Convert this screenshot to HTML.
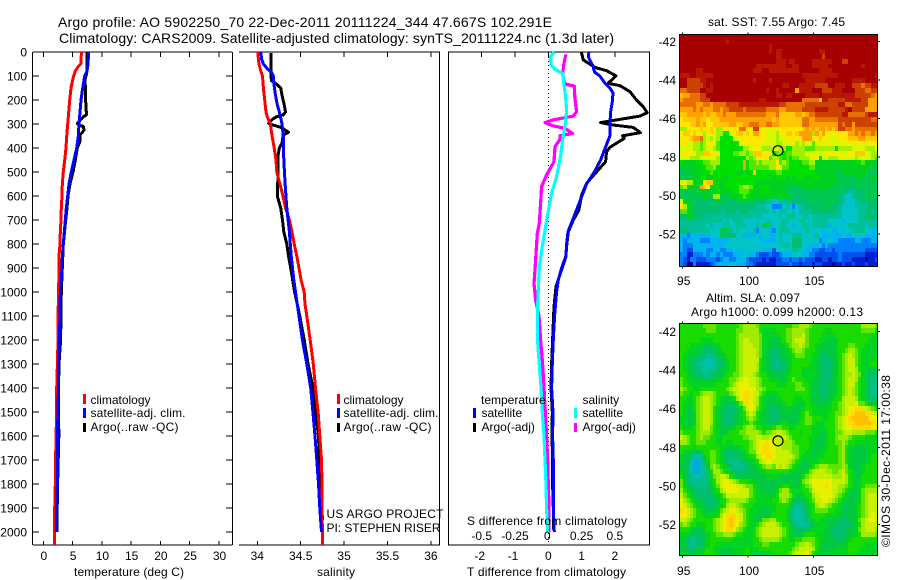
<!DOCTYPE html>
<html lang="en">
<head>
<meta charset="utf-8">
<title>Argo profile 5902250_70</title>
<style>
html,body{margin:0;padding:0;background:#fff;width:900px;height:580px;overflow:hidden}
svg{display:block}
text{font-family:"Liberation Sans",sans-serif;font-size:12px;fill:#000}
.t14{font-size:14px}
</style>
</head>
<body>
<svg id="chart" xmlns="http://www.w3.org/2000/svg" width="900" height="580" viewBox="0 0 900 580">
<rect x="0" y="0" width="900" height="580" fill="#fff"/>
<text class="t14" x="58" y="27" textLength="494" lengthAdjust="spacing">Argo profile: AO 5902250_70 22-Dec-2011 20111224_344 47.667S 102.291E</text>
<text class="t14" x="59" y="43" textLength="555" lengthAdjust="spacing">Climatology: CARS2009. Satellite-adjusted climatology: synTS_20111224.nc (1.3d later)</text>

<text x="74" y="576" textLength="110" lengthAdjust="spacing">temperature (deg C)</text>
<text x="317" y="576" textLength="38" lengthAdjust="spacing">salinity</text>
<text x="467" y="576" textLength="159" lengthAdjust="spacing">T difference from climatology</text>
<text id="s-diff-title" x="467" y="525" textLength="160" lengthAdjust="spacing">S difference from climatology</text>

<text x="708" y="26" textLength="137" lengthAdjust="spacing">sat. SST: 7.55 Argo: 7.45</text>
<text x="706" y="302" textLength="94" lengthAdjust="spacing">Altim. SLA: 0.097</text>
<text x="691" y="316" textLength="172" lengthAdjust="spacing">Argo h1000: 0.099 h2000: 0.13</text>
<text x="326.5" y="518" textLength="117" lengthAdjust="spacing">US ARGO PROJECT</text>
<text x="326.5" y="532" textLength="114" lengthAdjust="spacing">PI: STEPHEN RISER</text>
<text x="890" y="547" transform="rotate(-90 890 547)" textLength="172" lengthAdjust="spacing">©IMOS 30-Dec-2011 17:00:38</text>

<g>
<rect x="83" y="394" width="3" height="10" fill="#ff0000"/>
<text x="90.5" y="404">climatology</text>
<rect x="83" y="408" width="3" height="10" fill="#0000ff"/>
<text x="90.5" y="417" textLength="95" lengthAdjust="spacing">satellite-adj. clim.</text>
<rect x="83" y="423" width="3" height="9" fill="#000"/>
<text x="90.5" y="431" textLength="88" lengthAdjust="spacing">Argo(..raw -QC)</text>
</g>
<g>
<rect x="337" y="394" width="3" height="10" fill="#ff0000"/>
<text x="343.5" y="404">climatology</text>
<rect x="337" y="408" width="3" height="10" fill="#0000ff"/>
<text x="343.5" y="417" textLength="95" lengthAdjust="spacing">satellite-adj. clim.</text>
<rect x="337" y="423" width="3" height="9" fill="#000"/>
<text x="343.5" y="431" textLength="88" lengthAdjust="spacing">Argo(..raw -QC)</text>
</g>
<g id="diff-legend"></g>
</svg>
<script>
/* ---------- depth profiles (dbar, value) ---------- */
const tempClimDepths = [0,30,50,60,80,100,130,150,200,250,300,350,400,450,500,550,600,650,700,750,800,850,900,1000,1100,1200,1300,1400,1500,1600,1700,1800,1900,2000,2054];
const tempClimValues = [6.55,6.4,6.4,5.98,5.47,5.18,4.9,4.73,4.5,4.33,4.16,4.0,3.87,3.65,3.41,3.25,3.2,3.07,3.02,2.9,2.85,2.68,2.68,2.62,2.51,2.51,2.4,2.28,2.28,2.17,2.1,2.05,1.95,1.95,1.95];
const tempSatDepths = [0,50,80,100,150,200,250,300,350,400,450,500,550,600,650,700,750,800,850,900,950,1000,1100,1200,1300,1400,1500,1600,1700,1800,1900,2000];
const tempSatValues = [7.75,7.63,7.46,7.07,6.73,6.44,6.27,6.1,5.98,5.7,5.24,4.78,4.39,4.16,3.93,3.76,3.59,3.41,3.24,3.2,3.07,2.9,2.85,2.73,2.63,2.57,2.51,2.39,2.39,2.39,2.28,2.28];
const tempArgoDepths = [0,70,90,110,130,140,200,250,262,270,285,298,305,310,325,335,345,370,400,450,500,550,600,650,700,800,1000,1200,1300,1400,1600,1800,2000];
const tempArgoValues = [7.5,7.5,7.4,7.17,7.1,7.17,7.23,7.35,7.35,6.83,6.27,5.8,6.15,6.83,6.95,6.66,6.27,6.3,5.8,5.47,5.07,4.56,4.22,4.05,3.82,3.41,3.07,2.95,2.68,2.6,2.65,2.45,2.3];

const salClimDepths = [0,20,50,80,100,150,200,250,270,300,350,400,450,500,550,600,650,700,750,800,850,900,950,1000,1050,1100,1200,1300,1400,1500,1600,1700,1800,1900,2000,2054];
const salClimValues = [34.008,34.01,34.02,34.04,34.06,34.07,34.085,34.1,34.115,34.15,34.17,34.195,34.215,34.225,34.26,34.295,34.325,34.37,34.4,34.425,34.455,34.48,34.505,34.54,34.55,34.57,34.61,34.645,34.67,34.7,34.72,34.74,34.745,34.745,34.75,34.75];
const salSatDepths = [0,30,50,70,85,100,130,180,220,250,300,350,450,550,650,750,850,950,1000,1100,1200,1300,1400,1500,1600,1700,1800,1900,2000];
const salSatValues = [34.04,34.05,34.07,34.115,34.165,34.185,34.19,34.21,34.23,34.255,34.285,34.3,34.305,34.32,34.34,34.37,34.39,34.42,34.44,34.48,34.52,34.57,34.615,34.64,34.665,34.685,34.705,34.72,34.74];
const salArgoDepths = [5,100,120,130,150,180,220,250,262,270,280,298,305,315,325,335,345,380,400,430,500,600,650,700,750,800,850,900,1000,1100,1200,1300,1400,1500,1600,1700,1800,1900,1950];
const salArgoValues = [34.155,34.155,34.165,34.21,34.27,34.285,34.31,34.325,34.3,34.22,34.175,34.13,34.19,34.28,34.32,34.36,34.3,34.285,34.255,34.24,34.24,34.23,34.27,34.29,34.305,34.34,34.36,34.385,34.43,34.49,34.54,34.585,34.64,34.67,34.705,34.715,34.74,34.745,34.75];

const dTArgoDepths = [0,33,64,78,99,131,140,165,200,228,253,267,283,294,304,314,336,349,360,397,415,457,499,547,596,658,700,749,811,853,908,978,1061,1100,1200,1300,1400,1500,1600,1700,1800,1900,1990];
const dTArgoValues = [0.99,1.05,1.40,1.75,2.03,1.80,2.15,2.45,2.65,2.85,2.97,2.75,2.05,1.57,1.95,2.55,2.77,2.23,2.28,1.85,1.75,1.72,1.45,1.15,1.00,0.92,0.75,0.60,0.55,0.53,0.40,0.23,0.17,0.16,0.13,0.10,0.08,0.12,0.11,0.13,0.13,0.15,0.16];
const dTSatDepths = [0,20,40,60,75,85,100,130,150,170,200,250,300,340,350,400,450,500,550,600,650,700,750,800,850,900,950,1000,1050,1100,1200,1300,1400,1500,1600,1700,1800,1900,2000];
const dTSatValues = [1.22,1.20,1.27,1.35,1.37,1.40,1.55,1.70,1.85,1.94,1.93,1.87,1.85,1.86,1.85,1.71,1.57,1.38,1.15,1.01,0.87,0.73,0.59,0.55,0.53,0.40,0.30,0.25,0.22,0.19,0.15,0.12,0.10,0.14,0.13,0.15,0.15,0.15,0.18];
const dSArgoDepths = [10,47,89,124,135,142,193,249,267,283,294,308,318,339,349,364,394,457,512,561,631,714,756,839,908,964,1033,1100,1200,1300,1400,1500,1600,1700,1800,1900,2000];
const dSArgoValues = [0.1325,0.1175,0.1075,0.1175,0.1375,0.195,0.2,0.2125,0.1875,0.0375,-0.025,0.0375,0.125,0.1825,0.0875,0.0875,0.05,0.0425,-0.0125,-0.05,-0.0575,-0.0675,-0.0825,-0.0925,-0.1,-0.1075,-0.095,-0.07,-0.0575,-0.0425,-0.0325,-0.0225,-0.0125,-0.005,0,0.005,0.005];
const dSSatDepths = [0,19,54,72,89,144,200,249,311,367,436,519,589,686,783,894,1061,1100,1200,1250,1300,1400,1500,1600,1700,1800,1900,2000];
const dSSatValues = [0.045,0.0175,0.02,0.05,0.1075,0.12,0.1325,0.1375,0.125,0.1075,0.0925,0.0625,0.025,-0.0075,-0.0375,-0.0675,-0.08,-0.08,-0.08,-0.075,-0.0675,-0.055,-0.045,-0.0325,-0.025,-0.0175,-0.0125,-0.005];

/* ---------- tick labels ---------- */
const depthTicks = [0,100,200,300,400,500,600,700,800,900,1000,1100,1200,1300,1400,1500,1600,1700,1800,1900,2000];
const tempTicks = [0,5,10,15,20,25,30];
const salTicks = ["34","34.5","35","35.5","36"];
const dTTicks = ["-2","-1","0","1","2"];
const dSTicks = ["-0.5","-0.25","0","0.25","0.5"];
const latTicks = [-42,-44,-46,-48,-50,-52];
const lonTicks = [95,100,105];

/* ---------- heat map rows: one letter per cell, a (coldest/lowest) to u (warmest/highest) ---------- */
const sstRows = [
"uuuuuuuuuu uuuuuuuuuu uuuuuuuuuu uuuuuuuuuu uuuuuuuuuu uuuuuuuuuu",
"uuuuuuuuuu uuuutuuuuu uuuuuuuuuu uuuuuuuuuu uuuuuuuuuu uuuuuuuuuu",
"uuuuuuuuuu uuuuuuuuuu uuuuuuutuu uuuuuuuuuu uuuuuuuuuu uuuuuuuuuu",
"uuuuuuuuuu uuuuuuuuuu uuuuuuutut tuuuuuuuuu uuttuuuuuu uuuuuuuuuu",
"uuuuuuuuuu uuuuuuuuuu uuuuuuuuut tuuuuuuuuu uuusuuuuuu uuuuuuuuuu",
"uuuuuuuuuu uuuuuuuuuu uuuuuuuuut ttuttuuuuu ttttttuuus suuuuuuuuu",
"uuuuuuuuuu uuuuuuuuuu uuuttttttt ttuuttuuuu tttttuuuuu uuuuutuuuu",
"uuuuuttuuu uuuuuuuuuu uutttuuttt ttttttuuuu uuttttuuuu uuuuuuuuuu",
"tttuuttttt uuuuuuuuuu uuuuuuuuuu uuuuuuuttt ttttttttuu uuuuuuuuut",
"uussssttuu uuuuuuuuuu uutuuuutuu uuuuuuuutt ttttuuuuuu uuttttuuuu",
"uussssstut uuuuuuuuuu uuuuuuuuuu uttuuutttt tssssuuttt uusssrsstt",
"rrssssuutt uuuuuuuuuu uuuuuutuut uuuuuqtttt uuussstttu uuusssrrss",
"pqqrrrssuu uuuuuuuuuu uuuuuuuuut tuttuuuutt ttuttttttt tttsssssrq",
"qrrrrrsssu uuuuuuuuuu uuuuttuuuu uuuuuuurrr rrpttsssss tttttssqqq",
"rrrrrqqrrq rrrrsssstt tttttttttt ssrrrrrrss sssssssstt rrsssssqqq",
"qqqqrqrqqq rrqrrssssr ssssssrrrr qqrrrrrsss sttttsssss tussssqqqq",
"ppqqqqqpqp pqqrqqqrrr rrrrrrqqqr pppppqqpqr rsssssssst trrrrrsttt",
"oppppqppop ppqqqqqqqq qqqqqqqqpq ppppppprrq qrrrrrrrss ssssssssrr",
"oooppqpqoo pppppqqppq qrrrqqrrqq ppppppprrq qqqqqqqqsr ssqsssssss",
"mmoooopoop ommooooorr oossoonnno ooooooopqp qpqqpqpqss rrqrrrrrrr",
"oppoponmoo ommkknoppo poqqoonnnm ooppopqqqq mqoqoooooo oqqrqrqqrq",
"ooopqqrmnm nmkkkknnoo oooooonnnm nnoooooqqq oopoonnnoo opppqqpppp",
"oonnmmlmoo nlkkkkkkno ooooonnnnm mnnnnmnmnn lnnnnonnnn oonnonnooo",
"nnnnmmlmnn mlkkkkkkkm mnoonmmmnn mmkkmmmmll lmmmmmmkmm mmnnnnmmmn",
"noooommppo ookkkkllmm lmpppoookl mkllmmmmnn nnnnnoooon noopppnnmm",
"nnnmmmnnnn nmkkkkkkkk mlmoooolmm lklkllmmmn ooknnmmmnn nnnmnnnnml",
"kjjjjkkllm mmkkkkkkkq kllmlmmmmo lmlkkkkllm mjjjjjjjjj jjjkkljjjj",
"ijjjjjkkll mkkkkkkkkq kllllllmmo nllkkkkkkl ljjjjjjjjj jjjjjjjjii",
"iiijjjjkkl kkkkkkkjjk jkpkkkkkkl lkkkkkkkkk kjjjjjjiij jjjjjjjiii",
"iiiijjkkjj kkkjjkkkkk kkkkkkkkjk kkjkjkkkjj kkjjjjjjii iiijjiiijj",
"nnmmjjjopp kjjkkkkkkk kkkjjjjjjj jjjjjjjjjk jjjjjjjjii iiiiiiiiii",
"lmjjjiqpnj jkjjkkkklm mljjkkkjjj jjiiiiijjj jjjjjjiiii hhhiiiiiii",
"iijiijjijj jkjjjjkkll lkjjjkkjjj jjiihhiiii iiiiiiiiih hgghhhiiii",
"iiiiiiijji mmiiijjjkl kjjjjjjjji kjjiihhhii iiiiiiiihg ffghhhiiii",
"njjiihhhhh hiiihhhiii iihhhhggff gggghhhhhi iiiiiiihhg fffgghhhhh",
"omkiihhhhh hhhhhhhhhh hhhgggffdd dfgfdfgghh hhiiiihhgf fffgggghhh",
"llkihhhhhh hhgghhhghh hggggggfgf ggffgfgggg hhhhhhhggf ffffgghhgh",
"hhjjhhhggg gggggggggg ggfggfffff gfgggffggf gggggggggf ffffgghhhh",
"gggggggggg gggfgfgggf ffffffgfff fggfffggff gggggffffe ffffggggge",
"ggggggggfg fffggffggg fffgfiigff ggffeffggf gggggeffff fgggggfggg",
"hhgggggggf ffiiigfgff ffgdfffedf gggfffffgf fffeffeefe ffggggffef",
"eedeeeeeef ffiihhhffe eeefeffeef gfffgggfff fgfeeeeeef eeffffeeee",
"edeeeeddde eeeeefffff ffffeeeeef gfffhhhfff ffdeefeedd dddeedddee",
"edddeeeeee eeefffffff ffffffffff fggfhhhffe eefdeddddd dddddddddd",
"edcceeeedd eeddeeffff fffffeeecf ffffggffee ddccddcddd ddddddcccc",
"ddbbdddede ededddeeef feedcccdcc deeefffeed dcccccccdc ccccccbbbb",
"dcbddcccdd dcdeeddeee dccccbcbbc cddcddcdcc cbbccbccdc ccbbbbabbc",
"dcaadbbbbc deeeeffeee ddcbbbbbbc cccdccbccc bccbbbabbc bbcbbbcbbb"
];
const slaRows = [
"kkkkkkklll lkkkkkkklm mmmlkkkkkk kkkkllmmml kkkkkkkkkk kkkkkmmmml",
"kkkkkkkkll lkkkkkkllm mmmmkjjjjk kkllmmmmlk kkkkjjkkkk kkkkkllllk",
"kkkkkkkkkk kkkkkkklmm mmmmljjjjj kkllmmmnlk kkkjjjjkkk kkkkkkkkjj",
"kkkkkkjjjj kkkkkkklmn nmmmljjiii jkllmnnnlk kkjjjiijkk kkkkkkkjjj",
"kkkjjjjiii jjkkkkklmn nnmmljjiii ijklmmnmlk kjjiiiijkk kllkkkjjjj",
"kkjjjiihhh iijkkkklmn nnnmljiihh iijklmmlkk kjiiiiijkk lmmlkjjjjj",
"kjjiiihhgg hiijkkklmn nnnmljihhh iijjklllkk jjihhiijkl mnmlkjjjjj",
"kjiihhggff ghiijkklmn nnnnkjihhg hiijkkkkkk jiihhhiikl mnnlkjjjjk",
"kjiihggfff ghhijkklmn nnnmkjihhg hhijkkkkkj jiihhhiikl mnnlkjjjkk",
"kjiihhgfgg ghiijkklmn nnnmkjiihh hhijkkkjjj jiihhhiikl mnnmkjjiii",
"kkjiihhggh hiijkkllmn nnmlkkjiii hijkkkkjjj jiihhhijkl mmnmljihhh",
"lkjjiiiiii ijjkkllmno onnmlkkjjj iijklkkkjj iiihhhijkl mnnmkjihgg",
"lkkjjjjjjj jkkkklmnoo onnmlkkkkj jjkkkllkkj iihhhiijkl mnnlkjihgf",
"mlkkjjkkkk kkkklmnnoo ooommlkkkk kkkkklllkj iihhhiijkl mnmlkjihgf",
"lkkjkklmmm lkkkklmnop ponnlkjjjj kkkkkkkkkj iihhhiijkl mnmlkjihgg",
"kkjjklmnnm lkjiijkmop ponmkjiiij jkkkkjjkkj iiihiijkkm nnnmkjihhh",
"kjjjklmnnm lkjiihijln ponmkjiiii ijkkjjiikj jiiiijkklm nnnollkjii",
"kjiiklmnnm kjiihhhijl nonlkjihhi iijjiiijkk jjijjjkklm nooppnnmlk",
"kjiijlmnnm kjihhhhijk mnmkjiihhh iiiiiijklk jjjjjkkllm nopqqqppnn",
"jjiijlmnnm kjihhhiijk lmlkjiihhh iiiiiijkll kkkjjkklmn opqqqqqpoo",
"jjiijlmnnm kjihhhiijk klkjjjiiii jkjiijkkll kjjjkkklmn oppqqqqqpo",
"kjjjklmnnl kjiiiijkkl mmlkkjjjkl lkkjjkkkkk jjjjkkklmn ooppppppoo",
"lkkkklmmml kjiijkkkll mmmmlkllmn nmlkkkjkkk jjiijkkllm nnmmmmlllk",
"nmlkklmllk kjjkkkkkkl lmmnnmmnnn nnmlkkkkkj jiiijkklmm mlkkkkjjjj",
"mmlkklllkk kjjkjjkkkk klmnoopoon nmmmlkkkkj jiiijkkllm lkkjjjjjjj",
"kkkkjkkkkk kkjjjiiijk klmnoppoon nmmmllkkkj iiiijkkklm kjjiiiijjj",
"kjjiiijkkl lkjihhiiij kllnoppoon nnnmllkkjj iijjkkkklm kjiiiiijjj",
"jiihffgikl lkjihhhhii jkkmnoppon nnnnmlkjjj ijjjkkkklm kjiiiiijkk",
"jihfeeghjl lkjihggghh iijkmnoonn nnnmlkjiij jjkkkkkklm kjiiiijjkk",
"iihfeefgil mlkjihgggh hiijklmmln mnmlkjiiij klmmmllllm ljiiijkkkk",
"jihfeefghk mmlkjihhhh hiiijjkkkk kkkjjiiijl mnnnmmllmn lkjiijkkkk",
"kihgfffghj lmnnmkjiii iiiiiijjjj iiiiiiiklm nnnnnnmmmn mkjiikkkkk",
"lihggggghj kmnoonmlkk kjjiiiiiii iiijiijlmn oooooonnnn mkjiikkkkk",
"ljihhghghi klnoooonnm lljjiiihii jkkjiijklm ooooponnmm lkjijkllll",
"mkjihhhhhi jkmnoooonn nlkjiiiiij lmmkjjjkkl nooooonnml kjiijlmmmm",
"nlkjihhhhh ijklnnnnnn nlkjjjiijk mmmlkiijkk mnoooonmlk jiiijlmnnn",
"omlkjiihhh hijklmmmmm lkkjjjjjkk lmlkihhijk lnnoonmlkj iiiijlmnnn",
"onmlkjiihh hijkmnnmlk kkjjjjjjjk kkkjhgghij kmnnmlkkji hiijklmnnn",
"ponmlkjiii ijlmnoonml kjjjiiijjk kkjigfggij kllllkkjji hiijklmnnn",
"oonmlkkjjj jkmoppponl kjiiiiijkk kkjhgffghj kkkkjjjjii hiijklmnon",
"nnmlkkkkkk lmnopqponl kjiijllmmk kkjhgffghj jkjjjiiiih hiijlmnoon",
"lmlkkjjjkk lmnopqpoml kjjklmnnnm lkkihgfggh ijjjjiihhh hhijkmnnnn",
"kkkjiiijkk lmnoppomlk jjklmnnnnn mlkjihhhhi jjjjiihhhh hiijlmnnnm",
"jjiihhiijk kllmmmlkkj jjklmnnnnn mlkjiiijkk kjjjiihhhh iijjkmmmml",
"iihgghhijk kkkkkkjjjj jjkklmmmmm lkkjjkklll lkjjiiihhi ijkkkkkkkj",
"iihgghhijk kjjjjjjjjj jjkkkllkkk kkkkklmmnm lkjiiiiiii jkkkkkjjjj",
"iihhhiijkk jjiiiijjjj kjjjkkkkkk kkkklmnnnn mkjiiiijjj jkkkkjjjjj",
"jjiiijjkkk kjiiiijjjk kjjiiijjkk kkklmnnnom kjiiijjjjj jkkkjjjjjj"
];
const sstColors = ["#0000a0","#0020d0","#0050f0","#0080ff","#00b4f0","#00c4c8","#00c098","#00c070","#00c850","#00d020","#00e000","#50e800","#a0f000","#d8f800","#ffe800","#ffc800","#ffa000","#e87000","#cc4000","#b81800","#a80000"];
const slaColors = ["#0000a0","#0020d0","#0050f0","#0080ff","#00a8e8","#00c0a8","#00c090","#00c070","#00c840","#00d420","#18dc00","#60e400","#a0ec00","#c8f000","#e8f000","#ffd800","#ffc000","#e87000","#cc4000","#b81800","#a80000"];
const floatLonValues = [102.291];
const floatLatValues = [-47.667];

/* ---------- axis functions ---------- */
const NS = "http://www.w3.org/2000/svg";
const svg = document.getElementById("chart");
const depthY = d => 52 + 0.24 * d;
const tempX = t => 43.3 + 5.857 * t;
const salX = s => 257.3 + 86.8 * (s - 34);
const dTX = t => 548.3 + 33.3 * t;
const dSX = s => 548.3 + 133.2 * s;
const lonX = lon => 682.7 + 13.07 * (lon - 95);
const sstLatY = lat => 41.7 + 19.23 * (-42 - lat);
const slaLatY = lat => 331.7 + 19.26 * (-42 - lat);
const cellLon = c => 94.79 + 0.2525 * c;
const cellLat = r => -41.63 - 0.2517 * r;
const slaCellLat = r => -41.58 - 0.2517 * r;

function mk(tag, parent) {
  const el = document.createElementNS(NS, tag);
  (parent || svg).appendChild(el);
  return el;
}
function line(x1, y1, x2, y2, name, w) {
  const el = mk("line");
  el.setAttribute("x1", x1); el.setAttribute("y1", y1);
  el.setAttribute("x2", x2); el.setAttribute("y2", y2);
  el.setAttribute("stroke", "#000");
  el.setAttribute("stroke-width", w || 1);
  el.setAttribute("shape-rendering", "crispEdges");
  
  
  return el;
}
function label(x, y, str, anchor, name) {
  const el = mk("text");
  el.setAttribute("x", x); el.setAttribute("y", y);
  el.setAttribute("text-anchor", anchor);
  el.textContent = str;
  
  
  return el;
}
function profile(depths, values, xFn, color, width, name) {
  const el = mk("polyline");
  el.setAttribute("points", depths.map((d, i) => xFn(values[i]).toFixed(1) + "," + depthY(d).toFixed(1)).join(" "));
  el.setAttribute("fill", "none");
  el.setAttribute("stroke", color);
  el.setAttribute("stroke-width", width);
  el.setAttribute("stroke-linejoin", "round");
  el.setAttribute("shape-rendering", "crispEdges");
  
  
}
function heatmap(rows, colors, latFn, yFn, name) {
  const g = mk("g");
  
  
  rows.forEach((row, r) => {
    const codes = row.replace(/ /g, "");
    for (let c = 0; c < codes.length; c++) {
      const level = codes.charCodeAt(c) - 97;
      const x0 = Math.round(lonX(cellLon(c)));
      const x1 = Math.round(lonX(cellLon(c + 1)));
      const y0 = Math.round(yFn(latFn(r)));
      const y1 = Math.round(yFn(latFn(r + 1)));
      const cell = mk("rect", g);
      cell.setAttribute("x", x0);
      cell.setAttribute("y", y0);
      cell.setAttribute("width", x1 - x0);
      cell.setAttribute("height", y1 - y0);
      cell.setAttribute("fill", colors[level]);
      cell.setAttribute("shape-rendering", "crispEdges");
      
      
    }
  });
}

/* ---------- heat maps ---------- */
heatmap(sstRows, sstColors, cellLat, sstLatY, "sst-heatmap");
heatmap(slaRows, slaColors, slaCellLat, slaLatY, "sla-heatmap");

function mapFrame(yFn, top, bottom, labelY, prefix) {
  line(679, top, 878, top, prefix + "-frame-top");
  line(679, bottom, 878, bottom, prefix + "-frame-bottom");
  line(679.5, top, 679.5, bottom, prefix + "-frame-left");
  line(877.5, top, 877.5, bottom, prefix + "-frame-right");
  lonTicks.forEach(lon => {
    line(lonX(lon), top - 2, lonX(lon), top, prefix + "-top-tick");
    line(lonX(lon), bottom, lonX(lon), bottom + 2, prefix + "-bottom-tick");
    label(lonX(lon) + 1, labelY, String(lon), "middle", prefix + "-lon-label");
  });
  latTicks.forEach(lat => {
    line(877.5, yFn(lat), 880, yFn(lat), prefix + "-right-tick");
    label(676, yFn(lat) + 4.5, String(lat), "end", prefix + "-lat-label");
  });
  const ring = mk("circle");
  ring.setAttribute("cx", lonX(floatLonValues[0]));
  ring.setAttribute("cy", yFn(floatLatValues[0]));
  ring.setAttribute("r", 5);
  ring.setAttribute("fill", "none");
  ring.setAttribute("stroke", "#000");
  ring.setAttribute("stroke-width", 1.2);
  
  
}
mapFrame(sstLatY, 34.5, 266.5, 285, "sst-map");
mapFrame(slaLatY, 323.5, 555.5, 575, "sla-map");

/* ---------- temperature panel ---------- */
line(33, 52, 232, 52, "temperature-frame-top");
line(33, 545, 232, 545, "temperature-frame-bottom");
line(32.5, 52, 32.5, 545, "temperature-frame-left");
line(232.5, 52, 232.5, 545, "temperature-frame-right");
depthTicks.forEach(d => {
  line(33, depthY(d), 39, depthY(d), "depth-tick-left");
  line(226, depthY(d), 232, depthY(d), "depth-tick-right");
  label(27, depthY(d) + 4.5, String(d), "end", "depth-tick-label");
});
tempTicks.forEach(t => {
  line(tempX(t), 52, tempX(t), 57, "temperature-tick-top");
  line(tempX(t), 541, tempX(t), 545, "temperature-tick-bottom");
  label(tempX(t) + 0.5, 560, String(t), "middle", "temperature-tick-label");
});
profile(tempClimDepths, tempClimValues, tempX, "#ff0000", 3, "temperature-climatology-line");
profile(tempArgoDepths, tempArgoValues, tempX, "#000000", 3, "temperature-argo-line");
profile(tempSatDepths, tempSatValues, tempX, "#0000ff", 3, "temperature-satellite-line");

/* ---------- salinity panel ---------- */
line(239, 52, 440, 52, "salinity-frame-top");
line(239, 545, 440, 545, "salinity-frame-bottom");
line(439.5, 52, 439.5, 545, "salinity-frame-right");
salTicks.forEach(s => {
  line(salX(+s), 52, salX(+s), 57, "salinity-tick-top");
  line(salX(+s), 541, salX(+s), 545, "salinity-tick-bottom");
  label(salX(+s), 560, s, "middle", "salinity-tick-label");
});
profile(salArgoDepths, salArgoValues, salX, "#000000", 3, "salinity-argo-line");
profile(salClimDepths, salClimValues, salX, "#ff0000", 3, "salinity-climatology-line");
profile(salSatDepths, salSatValues, salX, "#0000ff", 3, "salinity-satellite-line");

/* ---------- difference panel ---------- */
line(448, 52, 650, 52, "difference-frame-top");
line(448, 545, 650, 545, "difference-frame-bottom");
line(448.5, 52, 448.5, 545, "difference-frame-left");
line(649.5, 52, 649.5, 545, "difference-frame-right");
dTTicks.forEach(t => {
  line(dTX(+t), 52, dTX(+t), 57, "t-difference-tick-top");
  label(dTX(+t) - (+t < 0 ? 2 : 0), 560, t, "middle", "t-difference-tick-label");
});
const zero = line(548.5, 53, 548.5, 545, "zero-difference-line");
zero.setAttribute("stroke-dasharray", "1 3");
profile(dTArgoDepths, dTArgoValues, dTX, "#000000", 3, "t-difference-argo-line");
profile(dTSatDepths, dTSatValues, dTX, "#0000ff", 3, "t-difference-satellite-line");
profile(dSArgoDepths, dSArgoValues, dSX, "#ff00ff", 3.2, "s-difference-argo-line");
profile(dSSatDepths, dSSatValues, dSX, "#00ffff", 3.2, "s-difference-satellite-line");

/* ---------- text drawn above the difference curves ---------- */
svg.appendChild(document.getElementById("s-diff-title"));
dSTicks.forEach(s => {
  label(dSX(+s) - (+s === 0 ? 1 : 0), 540, s, "middle", "s-difference-tick-label");
});
const dl = document.getElementById("diff-legend");
svg.appendChild(dl);
function swatch(x, y, h, color) {
  const r = mk("rect", dl);
  r.setAttribute("x", x); r.setAttribute("y", y);
  r.setAttribute("width", 3); r.setAttribute("height", h);
  r.setAttribute("fill", color);
  
  
}
function entry(x, y, str) {
  const t = mk("text", dl);
  t.setAttribute("x", x); t.setAttribute("y", y);
  t.textContent = str;
  
  
}
entry(481, 404, "temperature");
entry(481.5, 417, "satellite");
entry(481.5, 431, "Argo(-adj)");
entry(582.5, 404, "salinity");
entry(582.5, 417, "satellite");
entry(582.5, 431, "Argo(-adj)");
swatch(473, 408, 10, "#0000ff");
swatch(473, 423, 9, "#000000");
swatch(574, 408, 10, "#00ffff");
swatch(574, 423, 9, "#ff00ff");
</script>
</body>
</html>
